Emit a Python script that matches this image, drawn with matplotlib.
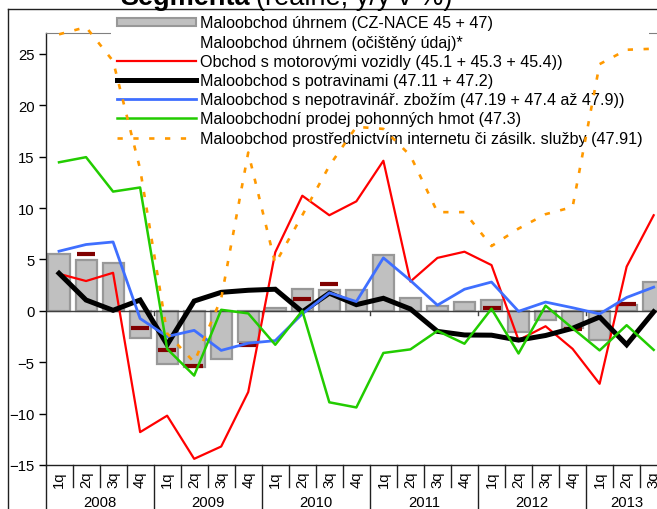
import matplotlib
matplotlib.use('Agg')
import matplotlib.pyplot as plt
import numpy as np
from matplotlib.lines import Line2D
from matplotlib.patches import Patch
import matplotlib.transforms as mtrans

plt.rcParams['font.family'] = ['Liberation Sans', 'DejaVu Sans']

nan = np.nan
years = ['2008', '2009', '2010', '2011', '2012', '2013']
quarters = ['1q', '2q', '3q', '4q'] * 5 + ['1q', '2q', '3q']

total = [5.5, 4.9, 4.7, -2.6, -5.2, -5.5, -4.7, -3.0, 0.25, 2.15, 2.0, 2.0,
         5.4, 1.25, 0.45, 0.85, 1.1, -2.05, -0.9, -1.7, -2.85, 0.55, 2.85]
adjusted = [nan, 5.5, nan, -1.7, -3.8, -5.4, nan, -3.35, nan, 1.15, 2.65, nan,
            nan, nan, nan, nan, 0.28, nan, nan, -1.72, nan, 0.7, nan]
motor = [3.6, 2.9, 3.7, -11.8, -10.2, -14.4, -13.2, -7.9, 5.7, 11.2, 9.3, 10.65,
         14.6, 2.85, 5.15, 5.75, 4.45, -2.85, -1.5, -3.7, -7.1, 4.3, 9.3]
food = [3.65, 1.05, 0.05, 1.05, -3.3, 0.95, 1.8, 2.0, 2.1, -0.1, 1.72, 0.6,
        1.22, 0.18, -2.0, -2.35, -2.37, -2.85, -2.4, -1.7, -0.6, -3.3, -0.1]
nonfood = [5.8, 6.45, 6.7, -0.75, -2.5, -1.9, -3.85, -3.15, -2.9, -0.3, 1.75, 0.9,
           5.15, 2.95, 0.55, 2.1, 2.8, -0.05, 0.85, 0.3, -0.3, 1.3, 2.3]
fuel = [14.45, 14.95, 11.6, 12.0, -3.7, -6.3, 0.1, -0.25, -3.3, 0.0, -8.9, -9.4,
        -4.1, -3.75, -1.95, -3.2, 0.2, -4.15, 0.5, -1.7, -3.85, -1.4, -3.8]
internet = [26.9, 27.6, 24.3, 13.8, -2.2, -5.0, 1.2, 15.4, 4.6, 9.3, 14.1, 17.9,
            17.7, 15.1, 9.6, 9.6, 6.3, 8.0, 9.4, 10.1, 24.0, 25.4, 25.5]

labels = ['Maloobchod úhrnem (CZ-NACE 45 + 47)',
          'Maloobchod úhrnem (očištěný údaj)*',
          'Obchod s motorovými vozidly (45.1 + 45.3 + 45.4))',
          'Maloobchod s potravinami (47.11 + 47.2)',
          'Maloobchod s nepotravinář. zbožím (47.19 + 47.4 až 47.9))',
          'Maloobchodní prodej pohonných hmot (47.3)',
          'Maloobchod prostřednictvím internetu či zásilk. služby (47.91)']

W, H = 657, 510
fig = plt.figure(figsize=(W / 100, H / 100), dpi=100)
ax = fig.add_axes([45.5 / W, 44 / H, 621.7 / W, 431.7 / H])
x = np.arange(len(total))
ax.set_xlim(-0.5, len(total) - 0.5)
ax.set_ylim(-15, 27)

ax.bar(x, total, width=0.78, color='#C0C0C0', edgecolor='#989898', linewidth=1.6, zorder=2)
ax.axhline(0, color='#404040', lw=1, zorder=2.2)
for b in [3.5, 7.5, 11.5, 15.5, 19.5]:
    ax.plot([b, b], [0, -0.4], color='#404040', lw=1, zorder=2.2)
ax.plot(x, adjusted, ls='none', marker='_', ms=13, mew=3, color='#800000', zorder=3.5)

red_c, blue_c, green_c, orange_c = '#FF0000', '#3F6FFF', '#22CC00', '#FF9900'
ax.plot(x, motor, color=red_c, lw=1.6, zorder=4)
ax.plot(x, food, color='black', lw=3.6, zorder=4.1, solid_joinstyle='miter')
ax.plot(x, nonfood, color=blue_c, lw=2.0, zorder=4.2)
ax.plot(x, fuel, color=green_c, lw=1.8, zorder=4.3)
ax.plot(x, internet, color=orange_c, lw=1.9, ls=(0, (2.0, 4.0)), dash_capstyle='butt',
        zorder=4.4, clip_on=False)

ax.set_xticks([])
ax.set_yticks(range(-15, 26, 5))
ax.tick_params(axis='y', direction='out', length=5, width=1, pad=3, labelsize=10.7)
ax.spines['right'].set_visible(False)
ax.spines['top'].set_color('#808080')
for s in ['left', 'bottom']:
    ax.spines[s].set_color('#202020')
    ax.spines[s].set_linewidth(1)

trans = mtrans.blended_transform_factory(ax.transData, ax.transAxes)
for i in range(len(total) + 1):
    b = i - 0.5
    y1 = -0.2 if i % 4 == 0 else -0.051
    ax.plot([b, b], [0, y1], color='#202020', lw=1, transform=trans, clip_on=False)
for i, q in enumerate(quarters):
    ax.text(i, -0.031, q, rotation=90, ha='center', va='center', fontsize=10.7, transform=trans)
for k, yr in enumerate(years):
    start = 4 * k - 0.5
    end = min(4 * k + 3.5, len(total) - 0.5)
    ax.text((start + end) / 2, -0.0857, yr, ha='center', va='center', fontsize=10.7, transform=trans)

handles = [Patch(facecolor='#C0C0C0', edgecolor='#989898', linewidth=1.5),
           Line2D([], [], color='none'),
           Line2D([], [], color=red_c, lw=1.6),
           Line2D([], [], color='black', lw=3.6),
           Line2D([], [], color=blue_c, lw=2.0),
           Line2D([], [], color=green_c, lw=1.8),
           Line2D([], [], color=orange_c, lw=1.9, ls=(0, (2.0, 4.0)))]
leg = ax.legend(handles, labels, loc='upper left', bbox_to_anchor=(111 / W, 1 - 10 / H),
                bbox_transform=fig.transFigure, frameon=True, fancybox=False,
                facecolor='white', framealpha=1, borderpad=0.4, borderaxespad=0,
                handlelength=4.85, handleheight=0.4, handletextpad=0.25,
                labelspacing=0.26, fontsize=11.6)
leg.get_frame().set_linewidth(0)
leg.set_zorder(3)

fig.add_artist(Line2D([8 / W, 8 / W], [0, 1 - 10 / H], transform=fig.transFigure, color='#202020', lw=1))
fig.add_artist(Line2D([8 / W, 1], [1 - 10 / H, 1 - 10 / H], transform=fig.transFigure, color='#202020', lw=1))

fig.text(250 / W, 1 - 5 / H, 'Segmenta', weight='bold', ha='right', va='baseline', fontsize=19.5)
fig.text(256 / W, 1 - 5 / H, '(reálně, y/y v %)', ha='left', va='baseline', fontsize=19.5)

fig.savefig('out.png', dpi=100)
